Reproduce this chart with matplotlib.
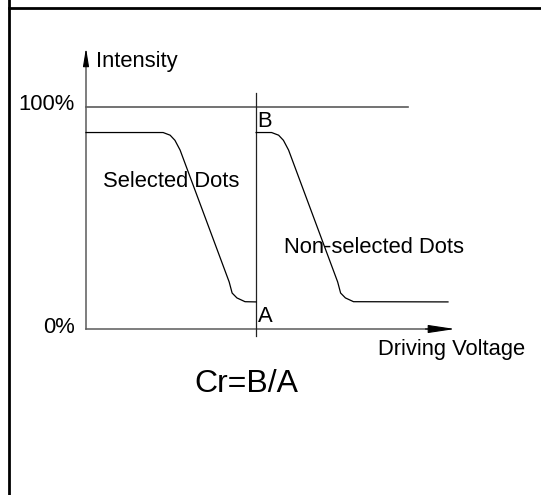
import numpy as np
import matplotlib
matplotlib.use("Agg")
import matplotlib.pyplot as plt
from matplotlib.lines import Line2D

plt.rcParams['font.family'] = ['Liberation Sans', 'DejaVu Sans']

# schematic data: driving voltage (arbitrary units) vs intensity (%)
sel_v = [0, 20.9, 22.8, 24.1, 25.5, 38.8, 39.6, 40.9, 43.1, 46.1]
sel_i = [88.5, 88.5, 87.3, 85.0, 80.6, 21.2, 16.2, 14.0, 12.3, 12.2]
nonsel_v = [46.1, 50.3, 52.2, 53.5, 54.9, 68.2, 69.0, 70.3, 72.5, 98.1]
nonsel_i = [88.5, 88.5, 87.3, 85.0, 80.6, 21.2, 16.2, 14.0, 12.3, 12.2]

full_level = 100
full_line_end = 87.3
marker_v = 46.1
marker_range = [-3.2, 106.3]
y_axis_top = 126.6
x_axis_end = 100

fs = 15.8

fig = plt.figure(figsize=(5.41, 4.95), dpi=100)
ax = fig.add_axes([86 / 541, 166 / 495, 369 / 541, 222 / 495])
ax.set_xlim(0, 100)
ax.set_ylim(0, 100)
ax.axis('off')

axis_col = '#5a5a5a'
# axis lines (gray) with black arrow heads
ax.plot([0, 0], [0, y_axis_top - 5], color=axis_col, lw=1.1, clip_on=False)
ax.plot([0, x_axis_end - 5], [0, 0], color=axis_col, lw=1.1, clip_on=False)
ax.annotate('', xy=(0, y_axis_top), xytext=(0, y_axis_top - 8), annotation_clip=False,
            arrowprops=dict(arrowstyle='-|>,head_length=1.1,head_width=0.18', mutation_scale=10,
                            color='black', lw=0.8, shrinkA=0, shrinkB=0))
ax.annotate('', xy=(x_axis_end, 0), xytext=(x_axis_end - 8, 0), annotation_clip=False,
            arrowprops=dict(arrowstyle='-|>,head_length=1.66,head_width=0.25', mutation_scale=10,
                            color='black', lw=0.8, shrinkA=0, shrinkB=0))

# 100% reference line and marker line
ax.plot([0, full_line_end], [full_level, full_level], color=axis_col, lw=1.2, clip_on=False)
ax.plot([marker_v, marker_v], marker_range, color='#222222', lw=0.9, clip_on=False)

# curves
ax.plot(sel_v, sel_i, color='black', lw=0.9, clip_on=False)
ax.plot(nonsel_v, nonsel_i, color='black', lw=0.9, clip_on=False)

# labels
kw = dict(fontsize=fs, va='baseline', clip_on=False, color='black')
ax.text(2.7, 117.9, 'Intensity', ha='left', **kw)
ax.text(-3.0, 98.6, '100%', ha='right', **kw)
ax.text(-3.0, -1.9, '0%', ha='right', **kw)
ax.text(46.4, 90.8, 'B', ha='left', **kw)
ax.text(46.6, 3.0, 'A', ha='left', **kw)
ax.text(4.6, 64.1, 'Selected Dots', ha='left', **kw)
ax.text(53.7, 34.4, 'Non-selected Dots', ha='left', **kw)
ax.text(79.1, -11.7, 'Driving Voltage', ha='left', **kw)
ax.text(29.3, -28.2, 'Cr=B/A', ha='left', fontsize=23, va='baseline', clip_on=False)

# table cell borders
fig.add_artist(Line2D([8.7 / 541, 8.7 / 541], [0, 1], color='black', lw=2.0))
fig.add_artist(Line2D([8.7 / 541, 1], [1 - 8 / 495, 1 - 8 / 495], color='black', lw=2.0))

fig.savefig('out.png', dpi=100)
